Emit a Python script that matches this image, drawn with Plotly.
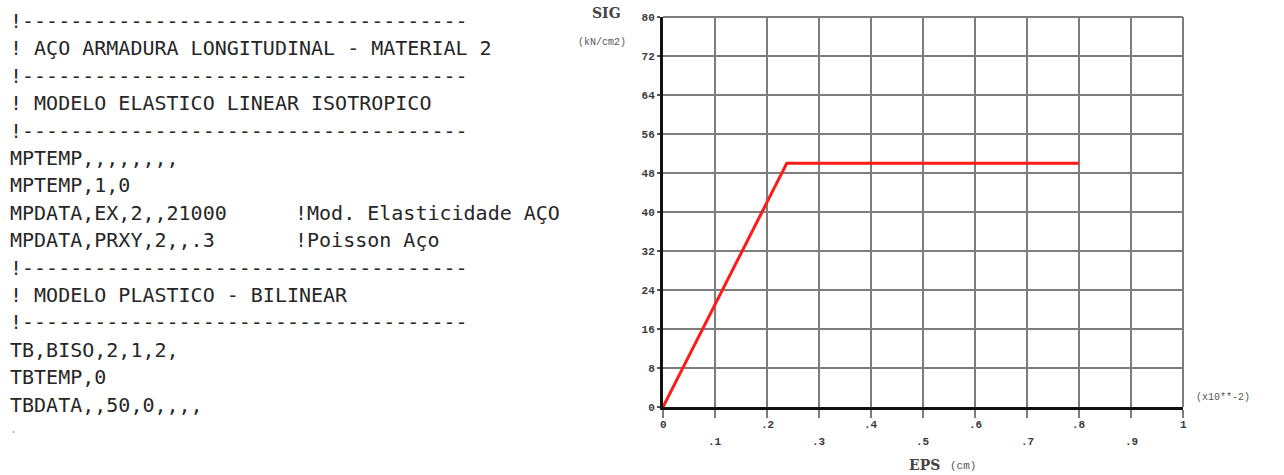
import plotly.graph_objects as go

# Bilinear stress-strain curve of the longitudinal reinforcement steel
eps = [0.0, 0.238, 0.8]          # strain (x10**-2)
sig = [0.0, 50.0, 50.0]          # stress (kN/cm2)

x_ticks = [0, 0.1, 0.2, 0.3, 0.4, 0.5, 0.6, 0.7, 0.8, 0.9, 1.0]
x_tick_text = ["0", ".1", ".2", ".3", ".4", ".5", ".6", ".7", ".8", ".9", "1"]
y_ticks = [0, 8, 16, 24, 32, 40, 48, 56, 64, 72, 80]
y_tick_text = [str(v) for v in y_ticks]

dash = "!" + "-" * 37
code_lines = [
    dash,
    "! AÇO ARMADURA LONGITUDINAL - MATERIAL 2",
    dash,
    "! MODELO ELASTICO LINEAR ISOTROPICO",
    dash,
    "MPTEMP,,,,,,,,",
    "MPTEMP,1,0",
    "MPDATA,EX,2,,21000",
    "MPDATA,PRXY,2,,.3",
    dash,
    "! MODELO PLASTICO - BILINEAR",
    dash,
    "TB,BISO,2,1,2,",
    "TBTEMP,0",
    "TBDATA,,50,0,,,,",
    ".",
]
code_comments = {7: "!Mod. Elasticidade AÇO", 8: "!Poisson Aço"}

W, H = 1284, 475
L, R, T, B = 663, 101, 15, 68
GRID = "#7d7d7d"

fig = go.Figure()
fig.add_trace(go.Scatter(
    x=eps, y=sig, mode="lines",
    line=dict(color="#ff1a1a", width=3),
    showlegend=False, hoverinfo="skip",
))

mono = "Liberation Mono"
code_font = dict(family="DejaVu Sans Mono", size=20, color="#262626")
annotations = []

# listing of the material definition, left of the plot
line_y0, line_dy = 19, 27.4
for i, txt in enumerate(code_lines):
    py = line_y0 + i * line_dy
    annotations.append(dict(
        xref="paper", yref="paper", x=0, y=1,
        xshift=8 - L, yshift=T - py,
        xanchor="left", yanchor="middle", showarrow=False,
        text=txt if txt != "." else "·",
        font=code_font if txt != "." else dict(family="DejaVu Sans Mono", size=12, color="#aaaaaa"),
    ))
    if i in code_comments:
        annotations.append(dict(
            xref="paper", yref="paper", x=0, y=1,
            xshift=293 - L, yshift=T - py,
            xanchor="left", yanchor="middle", showarrow=False,
            text=code_comments[i], font=code_font,
        ))

# staggered x tick labels
for k, (xv, lab) in enumerate(zip(x_ticks, x_tick_text)):
    annotations.append(dict(
        xref="x", yref="paper", x=xv, y=0,
        yshift=-(18 if k % 2 == 0 else 35),
        xanchor="center", yanchor="middle", showarrow=False,
        text=lab, font=dict(family=mono, size=11, color="#3a3a3a", weight="bold"),
    ))

axis_font = dict(family="DejaVu Serif", size=14, color="#444444", weight="bold")
annotations += [
    dict(xref="paper", yref="paper", x=0, y=1, xshift=623 - L, yshift=T - 11,
         xanchor="right", yanchor="middle", showarrow=False,
         text="SIG", font=axis_font),
    dict(xref="paper", yref="paper", x=0, y=1, xshift=628 - L, yshift=T - 40,
         xanchor="right", yanchor="middle", showarrow=False,
         text="(kN/cm2)", font=dict(family=mono, size=10, color="#555555")),
    dict(xref="paper", yref="paper", x=0, y=0, xshift=942 - L, yshift=-(465 - 407),
         xanchor="right", yanchor="middle", showarrow=False,
         text="EPS", font=axis_font),
    dict(xref="paper", yref="paper", x=0, y=0, xshift=948 - L, yshift=-(466 - 407),
         xanchor="left", yanchor="middle", showarrow=False,
         text="(cm)", font=dict(family=mono, size=11, color="#555555")),
    dict(xref="paper", yref="paper", x=1, y=0, xshift=1194 - (W - R), yshift=-(397 - 407),
         xanchor="left", yanchor="middle", showarrow=False,
         text="(x10**-2)", font=dict(family=mono, size=10, color="#555555")),
]

# top and right frame of the grid
shapes = [
    dict(type="line", xref="paper", yref="paper", x0=0, x1=1, y0=1, y1=1,
         line=dict(color=GRID, width=2), layer="below"),
    dict(type="line", xref="paper", yref="paper", x0=1, x1=1, y0=0, y1=1,
         line=dict(color=GRID, width=2), layer="below"),
]

fig.update_layout(
    width=W, height=H, autosize=False,
    margin=dict(l=L, r=R, t=T, b=B, pad=0),
    paper_bgcolor="white", plot_bgcolor="white",
    annotations=annotations, shapes=shapes,
    xaxis=dict(
        range=[0, 1], tickvals=x_ticks, showticklabels=False,
        showgrid=True, gridcolor=GRID, gridwidth=2,
        ticks="outside", ticklen=8, tickwidth=2, tickcolor=GRID,
        showline=True, linecolor="#111111", linewidth=3,
        zeroline=False, fixedrange=True,
    ),
    yaxis=dict(
        range=[0, 80], tickvals=y_ticks, ticktext=y_tick_text,
        showgrid=True, gridcolor=GRID, gridwidth=2,
        ticks="outside", ticklen=3, tickwidth=2, tickcolor="#555555",
        tickfont=dict(family=mono, size=11, color="#3a3a3a", weight="bold"),
        showline=True, linecolor="#111111", linewidth=3,
        zeroline=False, fixedrange=True,
    ),
)

fig.write_html("out.html")
